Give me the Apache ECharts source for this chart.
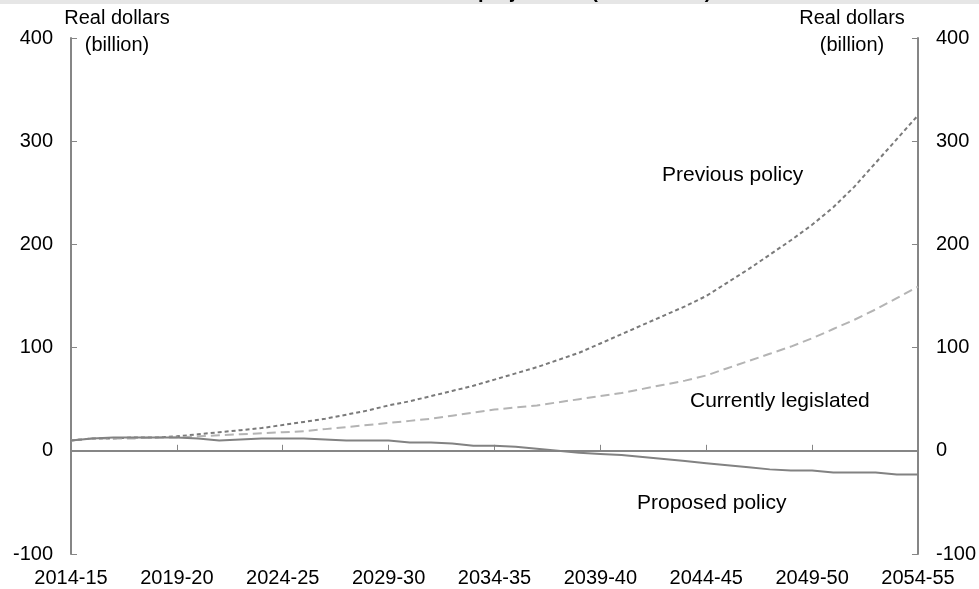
<!DOCTYPE html>
<html>
<head>
<meta charset="utf-8">
<script src="https://cdn.jsdelivr.net/npm/echarts@6/dist/echarts.min.js"></script>
<style>
html,body{margin:0;padding:0;background:#fff;}
#chart{width:979px;height:589px;}
</style>
</head>
<body>
<div id="chart"></div>
<script>
const categories = [];
for (let y = 2014; y <= 2054; y++) {
  categories.push(y + '-' + String((y + 1) % 100).padStart(2, '0'));
}
const previousPolicy = [10,12,12,13,13,14,16,18,20,22,25,28,31,35,39,44,48,53,58,63,69,75,81,88,95,104,113,122,131,140,150,163,176,190,204,219,236,256,279,302,325];
const currentlyLegislated = [10,12,12,12,13,13,14,15,16,17,18,19,21,23,25,27,29,31,34,37,40,42,44,47,50,53,56,60,64,68,73,80,87,94,101,109,118,127,137,148,159];
const proposedPolicy = [10,12,13,13,13,13,12,10,11,12,12,12,11,10,10,10,8,8,7,5,5,4,2,0,-2,-3,-4,-6,-8,-10,-12,-14,-16,-18,-19,-19,-21,-21,-21,-23,-23];
const yTicks = {min: -100, max: 400, interval: 100};
const seriesNames = ['Previous policy', 'Currently legislated', 'Proposed policy'];
const axisTitle = ['Real dollars', '(billion)'];

const FONT = 'Liberation Sans, Arial, sans-serif';
const AXIS_COLOR = '#868686';
const FS = 20;
const FS_NOTE = 21;

const chart = echarts.init(document.getElementById('chart'), null, {renderer: 'canvas'});

const yAxisBase = (pos) => ({
  type: 'value',
  position: pos,
  min: yTicks.min, max: yTicks.max, interval: yTicks.interval,
  axisLine: {show: true, lineStyle: {color: AXIS_COLOR, width: 2}},
  axisTick: {show: true, inside: true, length: 6, lineStyle: {color: AXIS_COLOR, width: 1}},
  axisLabel: {color: '#000', fontSize: FS, fontFamily: FONT, margin: 18},
  splitLine: {show: false}
});

chart.setOption({
  animation: false,
  backgroundColor: '#fff',
  grid: {left: 71, right: 61, top: 38, bottom: 35, containLabel: false},
  xAxis: [
    {
      type: 'category', data: categories, boundaryGap: false,
      axisLine: {show: true, onZero: true, lineStyle: {color: AXIS_COLOR, width: 2}},
      axisTick: {show: true, inside: true, length: 6, interval: 4, lineStyle: {color: AXIS_COLOR, width: 1}},
      axisLabel: {show: false},
      splitLine: {show: false}
    },
    {
      type: 'category', data: categories, boundaryGap: false, position: 'bottom',
      axisLine: {show: false, onZero: false},
      axisTick: {show: false},
      axisLabel: {show: true, interval: 4, color: '#000', fontSize: FS, fontFamily: FONT, margin: 14},
      splitLine: {show: false}
    }
  ],
  yAxis: [yAxisBase('left'), yAxisBase('right')],
  series: [
    {
      name: seriesNames[0], type: 'line', data: previousPolicy, xAxisIndex: 0, yAxisIndex: 0,
      symbol: 'none', lineStyle: {color: '#7a7a7a', width: 2, type: [4, 3]}
    },
    {
      name: seriesNames[1], type: 'line', data: currentlyLegislated, xAxisIndex: 0, yAxisIndex: 0,
      symbol: 'none', lineStyle: {color: '#b4b4b4', width: 2, type: [9, 5]}
    },
    {
      name: seriesNames[2], type: 'line', data: proposedPolicy, xAxisIndex: 0, yAxisIndex: 0,
      symbol: 'none', lineStyle: {color: '#828282', width: 2}
    }
  ],
  graphic: [
    {type: 'rect', left: 0, top: 0, shape: {width: 979, height: 4}, style: {fill: '#e6e6e6'}, silent: true},
    {type: 'text', x: 478, y: 2, style: {text: 'projections (real dollars)', font: 'bold 20px ' + FONT, fill: '#000', align: 'left', verticalAlign: 'bottom'}},
    {type: 'text', x: 117, y: 18, style: {text: axisTitle[0], font: FS + 'px ' + FONT, fill: '#000', align: 'center', verticalAlign: 'middle'}},
    {type: 'text', x: 117, y: 45, style: {text: axisTitle[1], font: FS + 'px ' + FONT, fill: '#000', align: 'center', verticalAlign: 'middle'}},
    {type: 'text', x: 852, y: 18, style: {text: axisTitle[0], font: FS + 'px ' + FONT, fill: '#000', align: 'center', verticalAlign: 'middle'}},
    {type: 'text', x: 852, y: 45, style: {text: axisTitle[1], font: FS + 'px ' + FONT, fill: '#000', align: 'center', verticalAlign: 'middle'}},
    {type: 'text', x: 662, y: 175, style: {text: seriesNames[0], font: FS_NOTE + 'px ' + FONT, fill: '#000', align: 'left', verticalAlign: 'middle'}},
    {type: 'text', x: 690, y: 401, style: {text: seriesNames[1], font: FS_NOTE + 'px ' + FONT, fill: '#000', align: 'left', verticalAlign: 'middle'}},
    {type: 'text', x: 637, y: 503, style: {text: seriesNames[2], font: FS_NOTE + 'px ' + FONT, fill: '#000', align: 'left', verticalAlign: 'middle'}}
  ]
});
</script>
</body>
</html>
